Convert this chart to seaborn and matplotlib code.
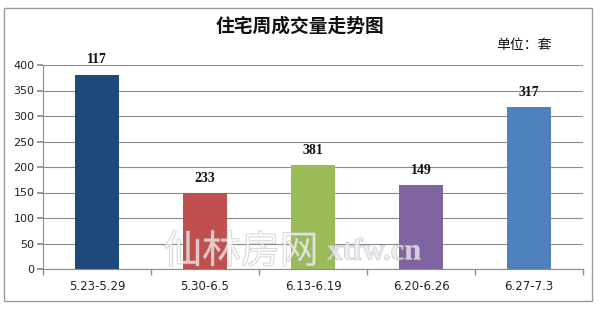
import matplotlib
matplotlib.use("Agg")
import matplotlib.pyplot as plt
import matplotlib.patheffects as pe
from matplotlib.patches import Rectangle
import seaborn as sns
import pandas as pd

categories = ["5.23-5.29", "5.30-6.5", "6.13-6.19", "6.20-6.26", "6.27-7.3"]
bar_values = [381, 149, 203, 165, 317]
bar_labels = ["117", "233", "381", "149", "317"]
colors = ["#1F497D", "#C0504D", "#9BBB59", "#8064A2", "#4F81BD"]
yticks = [0, 50, 100, 150, 200, 250, 300, 350, 400]

sns.set_theme(style="white")
plt.rcParams['font.family'] = ['Noto Sans CJK SC', 'DejaVu Sans']

df = pd.DataFrame({"period": categories, "value": bar_values})

fig = plt.figure(figsize=(6, 3.1), dpi=100)
fig.patch.set_facecolor("white")
ax = fig.add_axes([43/600, 41/310, 540/600, 204/310])

sns.barplot(data=df, x="period", y="value", hue="period", palette=colors,
            width=0.4, legend=False, ax=ax, saturation=1, edgecolor="none")

ax.set_ylim(0, 400)
ax.set_xlim(-0.5, 4.5)
ax.set_yticks(yticks)
ax.set_yticklabels([str(t) for t in yticks], fontsize=8, color="#222222",
                   family=['DejaVu Sans'])
ax.set_xticks(range(len(categories)))
ax.set_xticklabels(categories, fontsize=8.5, color="#222222", family=['DejaVu Sans'])
ax.set_xlabel("")
ax.set_ylabel("")
ax.yaxis.grid(True, color="#8c8c8c", linewidth=0.8)
ax.set_axisbelow(True)
for s in ["top", "right"]:
    ax.spines[s].set_visible(False)
for s in ["left", "bottom"]:
    ax.spines[s].set_color("#8c8c8c")
    ax.spines[s].set_linewidth(0.8)
ax.tick_params(axis="y", which="major", length=4, color="#8c8c8c", pad=2, left=True)
ax.tick_params(axis="x", which="major", length=0, pad=8)
ax.set_xticks([i - 0.5 for i in range(len(categories) + 1)], minor=True)
ax.tick_params(axis="x", which="minor", length=4, color="#8c8c8c", bottom=True, direction="out")

for patch, lab in zip(ax.patches, bar_labels):
    x = patch.get_x() + patch.get_width() / 2
    y = patch.get_height()
    ax.annotate(lab, (x, y), xytext=(0, 6), textcoords="offset points",
                ha="center", va="bottom", fontsize=10, fontweight="bold",
                family=['Liberation Serif'], color="#111111")

# watermark
fig.text(0.272, (310-252)/310, "仙林房网", fontsize=28, ha="left", va="center",
         color=(1, 1, 1, 0.45), family=['Noto Sans CJK SC'],
         path_effects=[pe.withStroke(linewidth=0.9, foreground=(0.65, 0.65, 0.65, 0.5))])
fig.text(0.545, (310-252)/310, "xtfw.cn", fontsize=22, ha="left", va="center",
         color=(0.93, 0.91, 0.96, 0.55), family=['Liberation Serif'], fontweight="bold",
         path_effects=[pe.withStroke(linewidth=0.8, foreground=(0.65, 0.65, 0.65, 0.5))])

fig.text(0.5, (310-26)/310, "住宅周成交量走势图", fontsize=13.5, fontweight="bold",
         ha="center", va="center", color="#111111")
fig.text(496/600, (310-45)/310, "单位：套", fontsize=10, ha="left", va="center",
         color="#111111")

fig.patches.append(Rectangle((4/600, 9/310), 588/600, 293/310, transform=fig.transFigure,
                             fill=False, edgecolor="#9a9a9a", linewidth=1.0))

fig.savefig("out.png", dpi=100, facecolor="white")
